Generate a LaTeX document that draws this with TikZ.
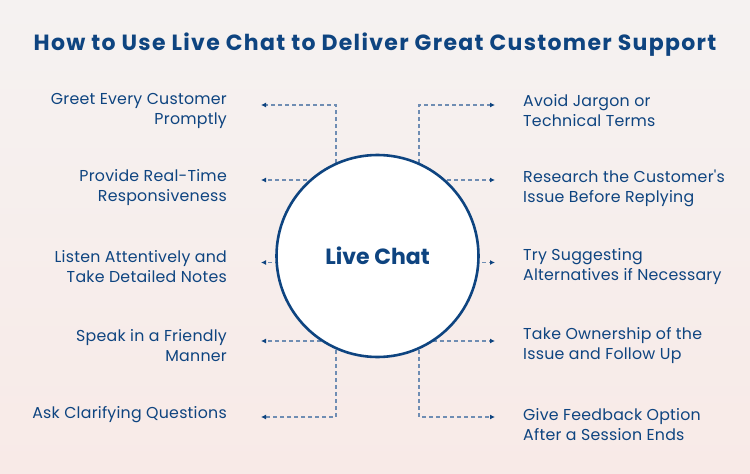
\documentclass[tikz,border=0pt]{standalone}
\usepackage{fontspec}
\setmainfont{Poppins}
\newfontfamily\titlefont[LetterSpace=6]{Poppins}
\newfontfamily\bodyfont[LetterSpace=1.5]{Poppins}
\usetikzlibrary{arrows.meta}
\definecolor{navy}{HTML}{0E4480}
\definecolor{dashcol}{HTML}{6F8DB3}
\definecolor{bgtop}{HTML}{F5F2F1}
\definecolor{bgbot}{HTML}{F8EAE7}
\tikzset{
  conn/.style={draw=dashcol, line width=1.2pt, dash pattern=on 4pt off 3pt,
    -{Latex[length=5pt,width=5pt,color=navy]}},
  ltext/.style={anchor=east, align=right, text=navy, font=\bodyfont\fontsize{15.8}{20}\selectfont, inner sep=0pt},
  rtext/.style={anchor=west, align=left, text=navy, font=\bodyfont\fontsize{15.8}{20}\selectfont, inner sep=0pt},
}
\begin{document}
\begin{tikzpicture}[x=1pt,y=-1pt]
\shade[top color=bgtop, bottom color=bgbot] (0,0) rectangle (750,474);
\useasboundingbox (0,0) rectangle (750,474);
\node[text=navy, font=\titlefont\fontsize{22}{26}\selectfont\bfseries, inner sep=0pt] (title) at (375,45) {How to Use Live Chat to Deliver Great Customer Support};
% coordinates
\coordinate (c) at (377.5,256);
\coordinate (lv1) at (336,240);
\coordinate (lv5) at (336,280);
\coordinate (rv1) at (419,240);
\coordinate (rv5) at (419,280);
\coordinate (l1) at (261,105);
\coordinate (l2) at (261,180);
\coordinate (l3) at (261,262.5);
\coordinate (l4) at (261,341);
\coordinate (l5) at (261,417);
\coordinate (r1) at (495,105);
\coordinate (r2) at (495,180);
\coordinate (r3) at (495,262.5);
\coordinate (r4) at (495,341);
\coordinate (r5) at (495,417);
\coordinate (s2) at (377,180);
\coordinate (s3) at (377,262.5);
\coordinate (s4) at (377,341);
% connectors
\draw[conn] (lv1) |- (l1);
\draw[conn] (s2) -- (l2);
\draw[conn] (s3) -- (l3);
\draw[conn] (s4) -- (l4);
\draw[conn] (lv5) |- (l5);
\draw[conn] (rv1) |- (r1);
\draw[conn] (s2) -- (r2);
\draw[conn] (s3) -- (r3);
\draw[conn] (s4) -- (r4);
\draw[conn] (rv5) |- (r5);
% circle
\node[circle, draw=navy, line width=2.6pt, fill=white, minimum size=202pt, inner sep=0pt,
  text=navy, font=\fontsize{22}{26}\selectfont\bfseries] (hub) at (c) {Live Chat};
% texts
\node[ltext] (t1) at (227,111) {Greet Every Customer\\Promptly};
\node[ltext] (t2) at (227,188) {Provide Real-Time\\Responsiveness};
\node[ltext] (t3) at (227,267) {Listen Attentively and\\Take Detailed Notes};
\node[ltext] (t4) at (227,346) {Speak in a Friendly\\Manner};
\node[ltext] (t5) at (227,415) {Ask Clarifying Questions};
\node[rtext] (u1) at (523,111) {Avoid Jargon or\\Technical Terms};
\node[rtext] (u2) at (523,188) {Research the Customer's\\Issue Before Replying};
\node[rtext] (u3) at (523,267) {Try Suggesting\\Alternatives if Necessary};
\node[rtext] (u4) at (523,346) {Take Ownership of the\\Issue and Follow Up};
\node[rtext] (u5) at (523,425) {Give Feedback Option\\After a Session Ends};
\end{tikzpicture}
\end{document}
